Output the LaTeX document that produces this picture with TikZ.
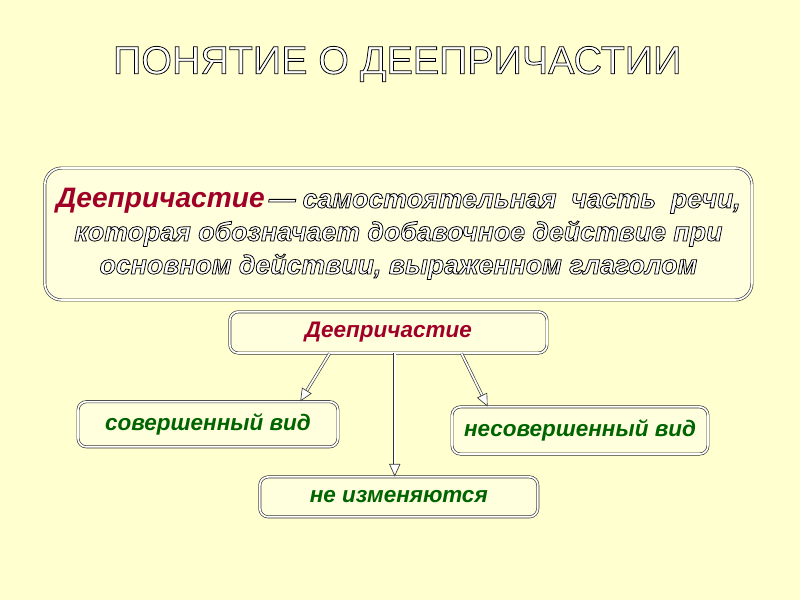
\documentclass[tikz,border=0pt]{standalone}
\usepackage{fontspec}
\setmainfont{Liberation Sans}
\usepackage{tikz}
\usetikzlibrary{arrows.meta, calc, positioning}
\definecolor{PaleYellow}{RGB}{255, 255, 208}
\definecolor{BoxYellow}{RGB}{255, 255, 222}
\definecolor{TermRed}{RGB}{160, 0, 40}
\definecolor{KindGreen}{RGB}{0, 100, 0}
% white letters with a thin black outline
\newcommand{\outl}[1]{\special{pdf:code q 0 G 0.55 w 2 Tr}#1\special{pdf:code 0 Tr Q}}

\begin{document}
\begin{tikzpicture}[node distance=1cm,
  box style/.style={
    draw=black!80,
    double=white,
    double distance=1.2pt,
    line width=0.45pt,
    fill=BoxYellow,
    rounded corners=6pt,
    text=#1,
    font=\fontsize{16}{19}\selectfont\bfseries\itshape,
  },
  title style/.style={
    text=white,
    font=\fontsize{28}{32}\selectfont,
  },
  arrow style/.style={
    draw=black!80,
    double=white,
    double distance=1.2pt,
    line width=0.45pt,
    -{Triangle[open, length=9pt, width=8pt, fill=white]}
  }
]
\useasboundingbox[fill=PaleYellow] (0,0) rectangle (20,-15);

\node[title style] (title) at (9.93,-1.6) {\outl{ПОНЯТИЕ О ДЕЕПРИЧАСТИИ}};

\node[box style=white, minimum width=17.68cm, minimum height=3.3cm,
  rounded corners=12pt, align=center,
  font=\fontsize{19}{23.5}\selectfont\bfseries\itshape] (def) at (9.96,-5.85)
  {\makebox[487pt][s]{\textcolor{TermRed}{\fontsize{20}{23.5}\selectfont Деепричастие}\hspace{3pt}%
   \outl{—}\hspace{5pt}\outl{самостоятельная} \outl{часть} \outl{речи,}}\\
   \outl{которая обозначает добавочное действие при}\\
   \outl{основном действии, выраженном глаголом}};

\node[box style=TermRed, minimum width=7.93cm, minimum height=1.03cm,
  below=0.28cm of def, xshift=-0.25cm] (kind) {Деепричастие};

\node[box style=KindGreen, minimum width=6.5cm, minimum height=1.13cm,
  below=1.2cm of kind, xshift=-4.51cm] (perf) {совершенный вид};

\node[box style=KindGreen, minimum width=6.4cm, minimum height=1.18cm,
  below=1.33cm of kind, xshift=4.79cm] (imperf) {несовершенный вид};

\node[box style=KindGreen, minimum width=6.95cm, minimum height=1cm,
  below=3.08cm of kind, xshift=0.26cm] (unchg) {не изменяются};

\coordinate (vstart) at ($(kind.south west)!0.52!(kind.south east)$);

\draw[arrow style] ($(kind.south west)!0.315!(kind.south east)$)
  -- ($(perf.north west)!0.854!(perf.north east)$);
\draw[arrow style] ($(kind.south west)!0.73!(kind.south east)$)
  -- ($(imperf.north west)!0.14!(imperf.north east)$);
\draw[arrow style] (vstart) -- (vstart |- unchg.north);

\end{tikzpicture}
\end{document}
